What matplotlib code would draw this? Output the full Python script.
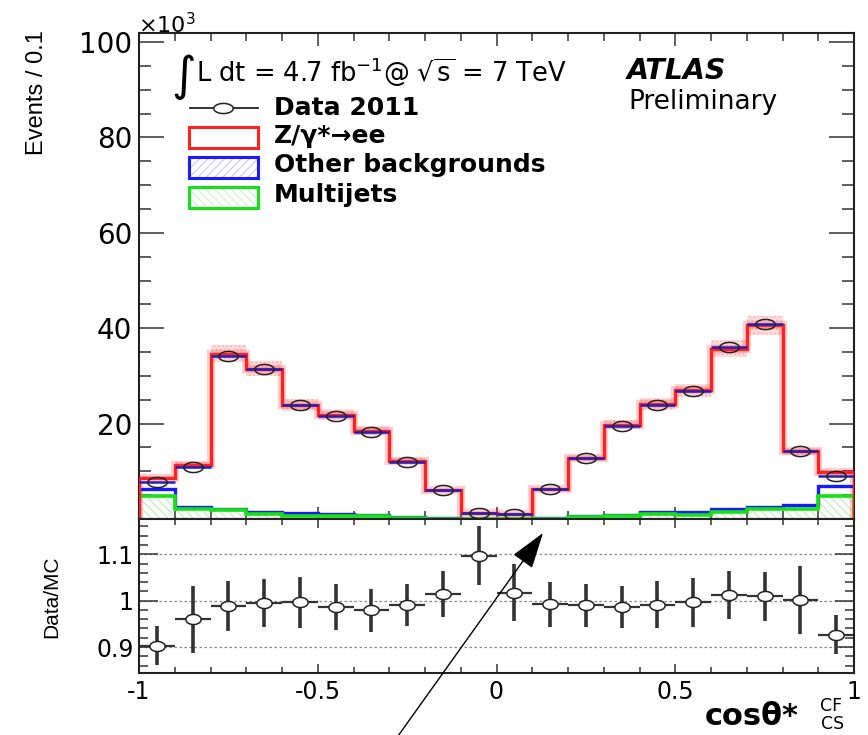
import numpy as np
import matplotlib
matplotlib.use("Agg")
import matplotlib.pyplot as plt
from matplotlib.path import Path
from matplotlib.patches import Rectangle, FancyArrowPatch
from matplotlib.lines import Line2D
from matplotlib.ticker import MultipleLocator, FixedLocator, FixedFormatter

plt.rcParams['font.family'] = ['DejaVu Sans']
plt.rcParams['axes.unicode_minus'] = False
plt.rcParams['mathtext.fontset'] = 'dejavusans'
plt.rcParams['hatch.linewidth'] = 0.8

# ---------------- data ----------------
bin_edges = [-1.0, -0.9, -0.8, -0.7, -0.6, -0.5, -0.4, -0.3, -0.2, -0.1, 0.0,
             0.1, 0.2, 0.3, 0.4, 0.5, 0.6, 0.7, 0.8, 0.9, 1.0]
# events per bin, in units of 10^3
data_2011 = [7.7, 10.9, 34.2, 31.4, 23.8, 21.6, 18.3, 12.0, 6.0, 1.3,
             1.15, 6.2, 12.7, 19.6, 23.9, 26.9, 36.1, 40.9, 14.2, 9.0]
z_ee = [2.25, 8.7, 32.5, 30.0, 22.7, 20.75, 17.56, 11.65, 5.75, 1.1,
        1.03, 5.95, 12.07, 18.86, 22.53, 25.6, 33.7, 38.0, 11.2, 2.85]
other_bkg = [1.4, 0.5, 0.35, 0.35, 0.47, 0.42, 0.34, 0.15, 0.15, 0.05,
             0.05, 0.15, 0.28, 0.34, 0.57, 0.5, 0.6, 0.6, 0.8, 2.0]
multijets = [4.9, 2.1, 1.85, 1.15, 0.73, 0.73, 0.6, 0.3, 0.1, 0.05,
             0.05, 0.1, 0.45, 0.6, 1.0, 0.9, 1.4, 2.0, 2.2, 4.9]
mc_rel_unc = 0.05
ratio = [0.903, 0.960, 0.989, 0.995, 0.996, 0.986, 0.979, 0.991, 1.014, 1.097,
         1.017, 0.992, 0.990, 0.987, 0.991, 0.996, 1.012, 1.009, 1.001, 0.927]
ratio_err = [0.042, 0.072, 0.054, 0.051, 0.054, 0.050, 0.046, 0.045, 0.049, 0.063,
             0.061, 0.049, 0.046, 0.045, 0.051, 0.053, 0.051, 0.053, 0.073, 0.043]

edges = np.array(bin_edges)
centers = 0.5 * (edges[:-1] + edges[1:])
halfw = 0.5 * (edges[1:] - edges[:-1])
mj = np.array(multijets)
bkg = mj + np.array(other_bkg)
total = bkg + np.array(z_ee)

VFAM = ['Liberation Sans', 'DejaVu Sans']

W, H = 868, 735
fig = plt.figure(figsize=(W / 100, H / 100), dpi=100)
ax = fig.add_axes([139 / W, 216 / H, 715 / W, 486 / H])
axr = fig.add_axes([139 / W, 62 / H, 715 / W, 154 / H])

# elliptical marker (ROOT circle in stretched image)
t = np.linspace(0, 2 * np.pi, 60)
ell_top = Path(np.column_stack([np.cos(t), 0.52 * np.sin(t)]), closed=True)
ell_rat = Path(np.column_stack([np.cos(t), 0.66 * np.sin(t)]), closed=True)

RED = '#ff2020'
BLUE = '#1a1aff'
GREEN = '#16e016'

# ---------------- top panel ----------------
ax.stairs(total * (1 + mc_rel_unc), edges, baseline=total * (1 - mc_rel_unc),
          fill=True, facecolor='#ffb8b8', edgecolor='#ff9090', hatch='....',
          lw=0, alpha=0.5, zorder=1)
ax.stairs(mj, edges, fill=True, facecolor='none', edgecolor='#b8f0b8',
          hatch='\\\\\\\\', lw=0, zorder=1)
ax.stairs(mj, edges, color=GREEN, lw=2.6, zorder=3)
ax.stairs(bkg, edges, color=BLUE, lw=2.4, zorder=2.5)
ax.stairs(total, edges, color=RED, lw=6, alpha=0.22, zorder=2)
ax.stairs(total, edges, color=RED, lw=2.4, zorder=4)
ax.hlines(data_2011, edges[:-1], edges[1:], color='#2020c0', lw=1.8, zorder=5)
ax.plot(centers, data_2011, ls='none', marker=ell_top, ms=14, mfc='none',
        mec='#222222', mew=1.1, zorder=6)

ax.set_xlim(-1, 1)
ax.set_ylim(0, 101.9)
ax.yaxis.set_major_locator(FixedLocator([20, 40, 60, 80, 100]))
ax.yaxis.set_minor_locator(MultipleLocator(5))
ax.xaxis.set_major_locator(MultipleLocator(0.5))
ax.xaxis.set_minor_locator(MultipleLocator(0.1))
ax.tick_params(axis='both', which='both', direction='in', top=True, right=True,
               width=1.1, color='#333333')
ax.tick_params(axis='y', which='major', length=18, labelsize=20, pad=5)
ax.tick_params(axis='y', which='minor', length=8.5)
ax.tick_params(axis='x', which='major', length=9)
ax.tick_params(axis='x', which='minor', length=5.5)
ax.tick_params(axis='x', labelbottom=False)
for s in ax.spines.values():
    s.set_linewidth(1.5)
    s.set_color('#222222')

# ---------------- ratio panel ----------------
for yv in (0.9, 1.0, 1.1):
    axr.axhline(yv, color='#888888', lw=0.9, ls=(0, (2, 2)), zorder=1)
axr.errorbar(centers, ratio, xerr=halfw, fmt='none', ecolor='#333333',
             elinewidth=1.6, capsize=0, zorder=2)
axr.errorbar(centers, ratio, yerr=ratio_err, fmt='none', ecolor='#333333',
             elinewidth=2.6, capsize=0, zorder=3)
axr.plot(centers, ratio, ls='none', marker=ell_rat, ms=11, mfc='white',
         mec='#222222', mew=1.1, zorder=4)
axr.set_xlim(-1, 1)
axr.set_ylim(0.844, 1.176)
axr.yaxis.set_major_locator(FixedLocator([0.9, 1.0, 1.1]))
axr.yaxis.set_major_formatter(FixedFormatter(['0.9', '1', '1.1']))
axr.yaxis.set_minor_locator(MultipleLocator(0.02))
axr.xaxis.set_major_locator(FixedLocator([-1, -0.5, 0, 0.5, 1]))
axr.xaxis.set_major_formatter(FixedFormatter(['-1', '-0.5', '0', '0.5', '1']))
axr.xaxis.set_minor_locator(MultipleLocator(0.1))
axr.tick_params(axis='both', which='both', direction='in', top=True, right=True,
                width=1.1, color='#333333')
axr.tick_params(axis='y', which='major', length=13.5, labelsize=17, pad=4)
axr.tick_params(axis='y', which='minor', length=6.5)
axr.tick_params(axis='x', which='major', length=6.5, labelsize=17, pad=5)
axr.tick_params(axis='x', which='minor', length=4)
for s in axr.spines.values():
    s.set_linewidth(1.5)
    s.set_color('#222222')


# ---------------- texts ----------------
def ft(x, y, s, **kw):
    return fig.text(x / W, 1 - y / H, s, **kw)


ft(138, 33, r'×10$^{\mathregular{3}}$', fontsize=16, ha='left', va='baseline')
ft(37, 93, 'Events / 0.1', fontsize=17, rotation=90, ha='center', va='center',
   family=VFAM)
ft(52, 597, 'Data/MC', fontsize=15, rotation=90, ha='center', va='center',
   family=VFAM)

ft(171, 90, '∫', fontsize=34, ha='left', va='baseline')
ft(196, 82, r'L dt = 4.7 fb$^{\mathregular{-1}}$@ $\sqrt{\mathregular{s}}$ = 7 TeV',
   fontsize=18.5, ha='left', va='baseline')
ft(627, 79, 'ATLAS', fontsize=20.5, fontweight='bold', fontstyle='italic',
   ha='left', va='baseline')
ft(628, 109, 'Preliminary', fontsize=19, ha='left', va='baseline')

# legend
fig.add_artist(Line2D([190 / W, 258 / W], [1 - 108 / H, 1 - 108 / H],
                      color='#222222', lw=1.3))
fig.add_artist(Line2D([223 / W], [1 - 108 / H], ls='none', marker=ell_top, ms=14,
                      mfc='white', mec='#222222', mew=1.1))
boxes = [(127, RED, None, None), (157, BLUE, '#c8c8ff', '////'),
         (187, GREEN, '#c8f5c8', '\\\\\\\\')]
for ytop, ec, hc, hatch in boxes:
    if hatch:
        fig.add_artist(Rectangle((189 / W, 1 - (ytop + 21) / H), 69 / W, 21 / H,
                                 transform=fig.transFigure, facecolor='white',
                                 edgecolor=hc, hatch=hatch, lw=0))
    fig.add_artist(Rectangle((189 / W, 1 - (ytop + 21) / H), 69 / W, 21 / H,
                             transform=fig.transFigure, facecolor='none',
                             edgecolor=ec, lw=2.2))
for yb, lab in [(115, 'Data 2011'), (143, 'Z/γ*→ee'),
                (172, 'Other backgrounds'), (202, 'Multijets')]:
    ft(274, yb, lab, fontsize=18, fontweight='bold', ha='left', va='baseline')

# x-axis title
ft(705, 725, 'cosθ*', fontsize=22, fontweight='bold', ha='left', va='baseline')
ft(820, 711, 'CF', fontsize=12.5, ha='left', va='baseline')
ft(821, 729, 'CS', fontsize=12.5, ha='left', va='baseline')

# arrow annotation
arr = FancyArrowPatch((398 / W, 1 - 736 / H), (543 / W, 1 - 533 / H),
                      transform=fig.transFigure,
                      arrowstyle='-|>,head_length=0.4,head_width=0.13',
                      mutation_scale=57, color='black', lw=1.0,
                      shrinkA=0, shrinkB=0)
fig.add_artist(arr)

fig.savefig('out.png', dpi=100)
